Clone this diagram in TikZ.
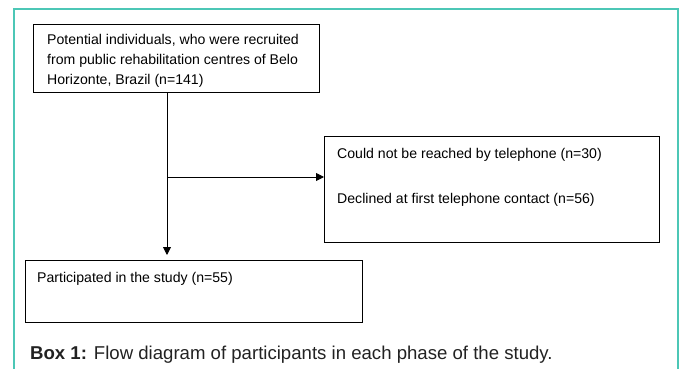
\documentclass[tikz,border=0pt]{standalone}
\usepackage{fontspec}
\setmainfont{Liberation Sans}
\usetikzlibrary{arrows.meta}
\definecolor{frameteal}{HTML}{4CC7B6}
\definecolor{captxt}{HTML}{222222}
\begin{document}
\begin{tikzpicture}[x=1pt,y=-1pt,
  flowbox/.style={draw=black,line width=0.9pt,fill=white},
  flowtxt/.style={anchor=west,inner sep=0pt,font=\fontsize{14.1}{16}\selectfont},
  conn/.style={line width=0.9pt,-{Triangle[length=8pt,width=8pt]}}]
\useasboundingbox (0,0) rectangle (680,369);
\draw[frameteal,line width=1.3pt] (14,369) -- (14,9) -- (678,9) -- (678,369);
% boxes
\node[flowbox,minimum width=286pt,minimum height=68pt,anchor=north west] (b1) at (33,24) {};
\node[flowbox,minimum width=335pt,minimum height=106pt,anchor=north west] (b2) at (324,136) {};
\node[flowbox,minimum width=337pt,minimum height=62pt,anchor=north west] (b3) at (25,260) {};
% texts
\node[flowtxt] (t1a) at (47,40) {Potential individuals, who were recruited};
\node[flowtxt] (t1b) at (47,61) {from public rehabilitation centres of Belo};
\node[flowtxt] (t1c) at (47,81) {Horizonte, Brazil (n=141)};
\node[flowtxt] (t2a) at (337,155) {Could not be reached by telephone (n=30)};
\node[flowtxt] (t2b) at (337,200) {Declined at first telephone contact (n=56)};
\node[flowtxt] (t3) at (37,279) {Participated in the study (n=55)};
\node[anchor=west,inner sep=0pt,text=captxt,font=\fontsize{18.6}{21}\selectfont] (cap) at (30,355) {\textbf{Box 1:} Flow diagram of participants in each phase of the study.};
% connectors
\coordinate (top) at (b1.south -| 167,0);
\coordinate (split) at (167,177);
\draw[conn,shorten >=5pt] (top) -- (top |- b3.north);
\draw[conn] (split) -- (split -| b2.west);
\end{tikzpicture}
\end{document}
